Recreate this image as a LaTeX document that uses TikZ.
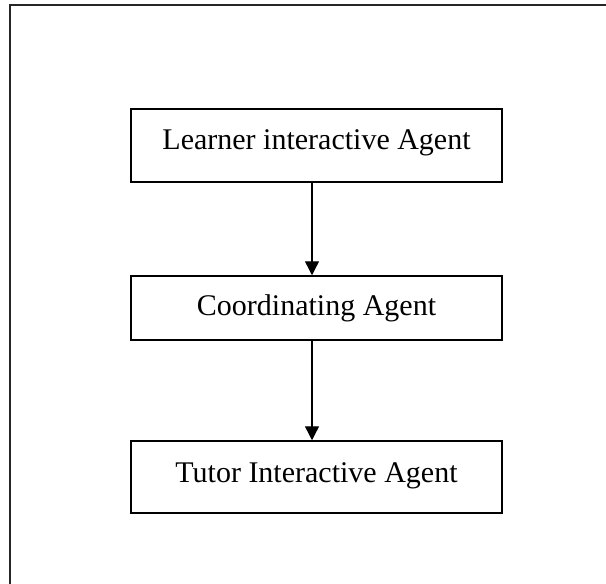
\documentclass[tikz,border=0pt]{standalone}
\usepackage{fontspec}
\setmainfont{Liberation Serif}
\usepackage{tikz}
\usetikzlibrary{arrows.meta, positioning}

\begin{document}
\begin{tikzpicture}[x=1pt, y=-1pt,
    box/.style={rectangle, draw, line width=1.5pt, minimum width=371pt, inner xsep=0pt, inner ysep=0pt, font=\fontsize{30}{36}\selectfont, anchor=base},
    arrow/.style={-{Triangle[length=14pt, width=14pt]}, line width=1.4pt}
]
\useasboundingbox (0,0) rectangle (606,584);

% outer frame (cut at the right and bottom)
\draw[line width=2pt, black!85] (10,584) -- (10,5) -- (606,5);

\node[box, text height=40pt, text depth=33pt] (learner) at (316.5,149) {Learner interactive Agent};
\node[box, text height=39pt, text depth=25pt] (coord) at (316.5,315) {Coordinating Agent};
\node[box, text height=41pt, text depth=31pt] (tutor) at (316.5,482) {Tutor Interactive Agent};

\draw[arrow] ([xshift=-4.5pt]learner.south) -- ([xshift=-4.5pt]coord.north);
\draw[arrow] ([xshift=-4.5pt]coord.south) -- ([xshift=-4.5pt]tutor.north);

\end{tikzpicture}
\end{document}
